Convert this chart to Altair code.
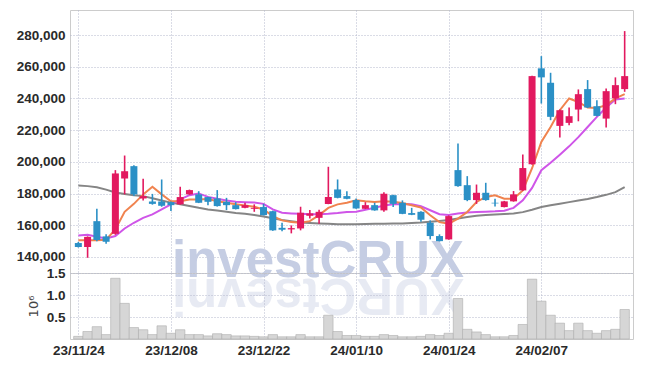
import altair as alt
import pandas as pd

dates = ["23/11/24", "23/11/27", "23/11/28", "23/11/29", "23/11/30", "23/12/01", "23/12/04", "23/12/05",
         "23/12/06", "23/12/07", "23/12/08", "23/12/11", "23/12/12", "23/12/13", "23/12/14", "23/12/15",
         "23/12/18", "23/12/19", "23/12/20", "23/12/21", "23/12/22", "23/12/26", "23/12/27", "23/12/28",
         "24/01/02", "24/01/03", "24/01/04", "24/01/05", "24/01/08", "24/01/09", "24/01/10", "24/01/11",
         "24/01/12", "24/01/15", "24/01/16", "24/01/17", "24/01/18", "24/01/19", "24/01/22", "24/01/23",
         "24/01/24", "24/01/25", "24/01/26", "24/01/29", "24/01/30", "24/01/31", "24/02/01", "24/02/02",
         "24/02/05", "24/02/06", "24/02/07", "24/02/08", "24/02/13", "24/02/14", "24/02/15", "24/02/16",
         "24/02/19", "24/02/20", "24/02/21", "24/02/22"]

opens = [148800, 146300, 162600, 153000, 154600, 189500, 197300, 176900, 175000, 175000,
         174600, 173200, 179500, 179500, 177800, 176900, 174800, 172700, 171000, 170400,
         171500, 168900, 158400, 157400, 158000, 166000, 164700, 173500, 182600, 178400,
         175900, 170400, 172700, 169400, 179000, 174200, 167700, 168500, 161600, 153200,
         151100, 194800, 185300, 175900, 180500, 174200, 171500, 175100, 182000, 198500,
         259000, 249900, 222700, 224600, 233000, 245900, 235100, 227300, 240000, 245900]
closes = [146300, 152700, 150700, 149600, 192700, 194100, 179500, 178400, 173500, 172300,
          172700, 177800, 182200, 174200, 174800, 172100, 172700, 170200, 172700, 171000,
          166400, 156800, 157200, 158200, 167900, 167500, 168500, 177800, 177300, 176700,
          170600, 172700, 169400, 179900, 173500, 167200, 166600, 163500, 153200, 150000,
          165800, 184700, 175900, 180500, 175900, 173800, 175100, 179500, 196100, 254100,
          253300, 228400, 232600, 228800, 242700, 234300, 229000, 244600, 248400, 254100]
highs = [149500, 153000, 170400, 154300, 194800, 204000, 197900, 189300, 179800, 188900,
         175000, 184300, 182500, 181500, 178000, 182200, 177300, 174600, 174200, 173200,
         173500, 169200, 161600, 159900, 171700, 169600, 169800, 196900, 188900, 181500,
         176900, 174600, 174200, 180900, 179200, 175700, 171000, 168800, 163100, 154300,
         166200, 211600, 191000, 185700, 186800, 176800, 175400, 181600, 204600, 254400,
         266700, 256200, 233000, 234300, 245700, 251600, 238900, 246300, 253300, 282500]
lows = [146000, 139500, 150000, 148300, 154000, 179500, 178500, 175700, 173000, 171700,
        169000, 173000, 179200, 174000, 172700, 171800, 169600, 170000, 170800, 168500,
        166200, 156500, 156300, 154900, 156800, 164300, 160900, 173300, 177000, 176500,
        170400, 170200, 169200, 168500, 171500, 167000, 166400, 162200, 151100, 149800,
        150900, 184300, 175200, 173500, 175500, 171900, 171300, 174900, 181800, 198200,
        236800, 226300, 215300, 223100, 225600, 234000, 228800, 221700, 236400, 244200]
volumes = [0.06, 0.17, 0.28, 0.10, 1.38, 0.81, 0.26, 0.21, 0.10, 0.30,
           0.13, 0.21, 0.10, 0.10, 0.07, 0.12, 0.10, 0.07, 0.07, 0.06,
           0.05, 0.10, 0.05, 0.05, 0.10, 0.05, 0.05, 0.54, 0.17, 0.08,
           0.08, 0.06, 0.06, 0.10, 0.08, 0.05, 0.05, 0.06, 0.10, 0.08,
           0.13, 0.92, 0.22, 0.16, 0.10, 0.05, 0.05, 0.08, 0.33, 1.36,
           0.86, 0.54, 0.36, 0.19, 0.36, 0.19, 0.13, 0.19, 0.22, 0.67]
ma_short = [150500, 150500, 150500, 150900, 157400, 168500, 173500, 179500, 184300, 179500,
            175200, 175200, 176300, 176300, 176500, 175200, 174200, 173200, 172500, 171700,
            170000, 165800, 163100, 162000, 161600, 162600, 166400, 171000, 173200, 174200,
            175800, 175100, 174700, 175100, 174900, 174100, 172600, 171200, 166300, 162000,
            161000, 164200, 168400, 174700, 177900, 178900, 176800, 176800, 182000, 196000,
            212600, 222000, 232600, 240000, 237800, 234300, 234000, 235800, 240000, 242700]
ma_mid = [153600, 154000, 152800, 151700, 153200, 158000, 161600, 164700, 166900, 170000,
          173200, 176300, 179000, 180100, 177900, 176700, 175700, 174800, 174600, 174400,
          173500, 170000, 167900, 167500, 167200, 166900, 166900, 167200, 167700, 168400,
          168500, 169800, 171000, 172500, 173300, 173500, 173300, 172000, 169500, 167000,
          166500, 167500, 168000, 168400, 168600, 168800, 169200, 171000, 175700, 183600,
          194700, 199400, 204500, 209800, 215600, 222000, 228400, 234300, 239400, 240000]
ma_long = [185100, 184700, 184000, 182500, 180700, 179800, 179000, 178400, 177000, 175600,
           174300, 173300, 172200, 171000, 170000, 169300, 168600, 167800, 167200, 166500,
           165600, 164500, 163300, 162500, 161800, 161400, 161100, 160900, 160700, 160600,
           160700, 160800, 160900, 161000, 161100, 161200, 161400, 161700, 162200, 162700,
           163300, 164300, 165200, 166000, 166500, 166800, 167100, 167500, 168300, 169800,
           171500, 172600, 173600, 174600, 175600, 176600, 177800, 179200, 180900, 184000]

label_idx = [0, 10, 20, 30, 40, 50]
price_ticks = [140000, 160000, 180000, 200000, 220000, 240000, 260000, 280000]
vol_ticks = [0.5, 1.0, 1.5]

RED = "#e2195f"
BLUE = "#2b90c6"
FONT = "Liberation Sans"

n = len(dates)
df = pd.DataFrame({"i": list(range(n)), "date": dates, "open": opens, "close": closes,
                   "high": highs, "low": lows, "vol": volumes})
df["dir"] = ["up" if c >= o else "down" for o, c in zip(opens, closes)]

W, H1, H2 = 563, 263, 66
xscale = alt.Scale(domain=[-0.36, n - 1 + 0.36], nice=False, zero=False)
arr = "[" + ",".join("'" + d + "'" for d in dates) + "]"
x_top = alt.X("i:Q", scale=xscale, title=None,
              axis=alt.Axis(values=label_idx, labels=False, ticks=False, domain=False, grid=True))
x_bot = alt.X("i:Q", scale=xscale, title=None,
              axis=alt.Axis(values=label_idx, labelExpr=arr + "[datum.value]", ticks=False,
                            domain=False, grid=True, labelPadding=4, labelOverlap=False))
yscale = alt.Scale(domain=[129900, 295800], nice=False, zero=False)
y_axis = alt.Axis(values=price_ticks, format=",d", ticks=False, domain=False, grid=True,
                  labelPadding=5, labelOverlap=False)
dir_color = alt.Color("dir:N", scale=alt.Scale(domain=["up", "down"], range=[RED, BLUE]), legend=None)

base = alt.Chart(df)

wm = pd.DataFrame({"t": ["investCRUX"], "r": ["investCRUX"[::-1]]})
water = alt.Chart(wm).mark_text(font="Liberation Sans", fontWeight="bold", fontSize=51,
                                 color="#c5cde3", align="center", baseline="alphabetic").encode(
    text="t:N", x=alt.value(248), y=alt.value(267))
water_ref = alt.Chart(wm).mark_text(font="Liberation Sans", fontWeight="bold", fontSize=51,
                                     color="#c5cde3", opacity=0.4, align="center", baseline="alphabetic",
                                     angle=180).encode(text="r:N", x=alt.value(248), y=alt.value(269))

line_layers = []
for name, vals, col in [("long", ma_long, "#858585"), ("mid", ma_mid, "#cf55e8"), ("short", ma_short, "#f0834f")]:
    ldf = pd.DataFrame({"i": list(range(n)), "v": vals})
    line_layers.append(alt.Chart(ldf).mark_line(color=col, strokeWidth=2).encode(
        x=x_top, y=alt.Y("v:Q", scale=yscale, title=None, axis=y_axis)))

wick = base.mark_rule(strokeWidth=1.6).encode(
    x=x_top, y=alt.Y("low:Q", scale=yscale, title=None, axis=y_axis),
    y2="high:Q", color=dir_color)
body = base.mark_bar(size=7).encode(
    x=x_top, y=alt.Y("open:Q", scale=yscale, title=None, axis=y_axis), y2="close:Q", color=dir_color)

top = alt.layer(water, water_ref, *line_layers, wick, body).properties(width=W, height=H1)

vol = base.mark_bar(size=9.4, color="#d6d6d6", stroke="#adadad", strokeWidth=0.6).encode(
    x=x_bot,
    y=alt.Y("vol:Q", scale=alt.Scale(domain=[0, 1.5], nice=False),
            axis=alt.Axis(values=vol_ticks, format=".1f", ticks=False, domain=False, grid=True,
                          labelOverlap=False, title="10\u2076", titleFont="DejaVu Sans",
                          titleFontWeight="normal", titleFontSize=13, titleColor="#444",
                          titlePadding=6, labelPadding=5)))
bottom = vol.properties(width=W, height=H2)

chart = alt.vconcat(top, bottom, spacing=0, bounds="flush").properties(
    padding={"left": 7, "top": 1, "right": 2, "bottom": 5},
    background="white"
).configure_axis(
    labelFont=FONT, labelFontSize=13.5, labelFontWeight="bold", labelColor="#2a2a2a",
    gridColor="#b4b9cc", gridDash=[1, 2], gridWidth=1
).configure_view(stroke="#cccccc", strokeWidth=1)

chart.save("out.html", embed_options={"renderer": "svg", "actions": False})
